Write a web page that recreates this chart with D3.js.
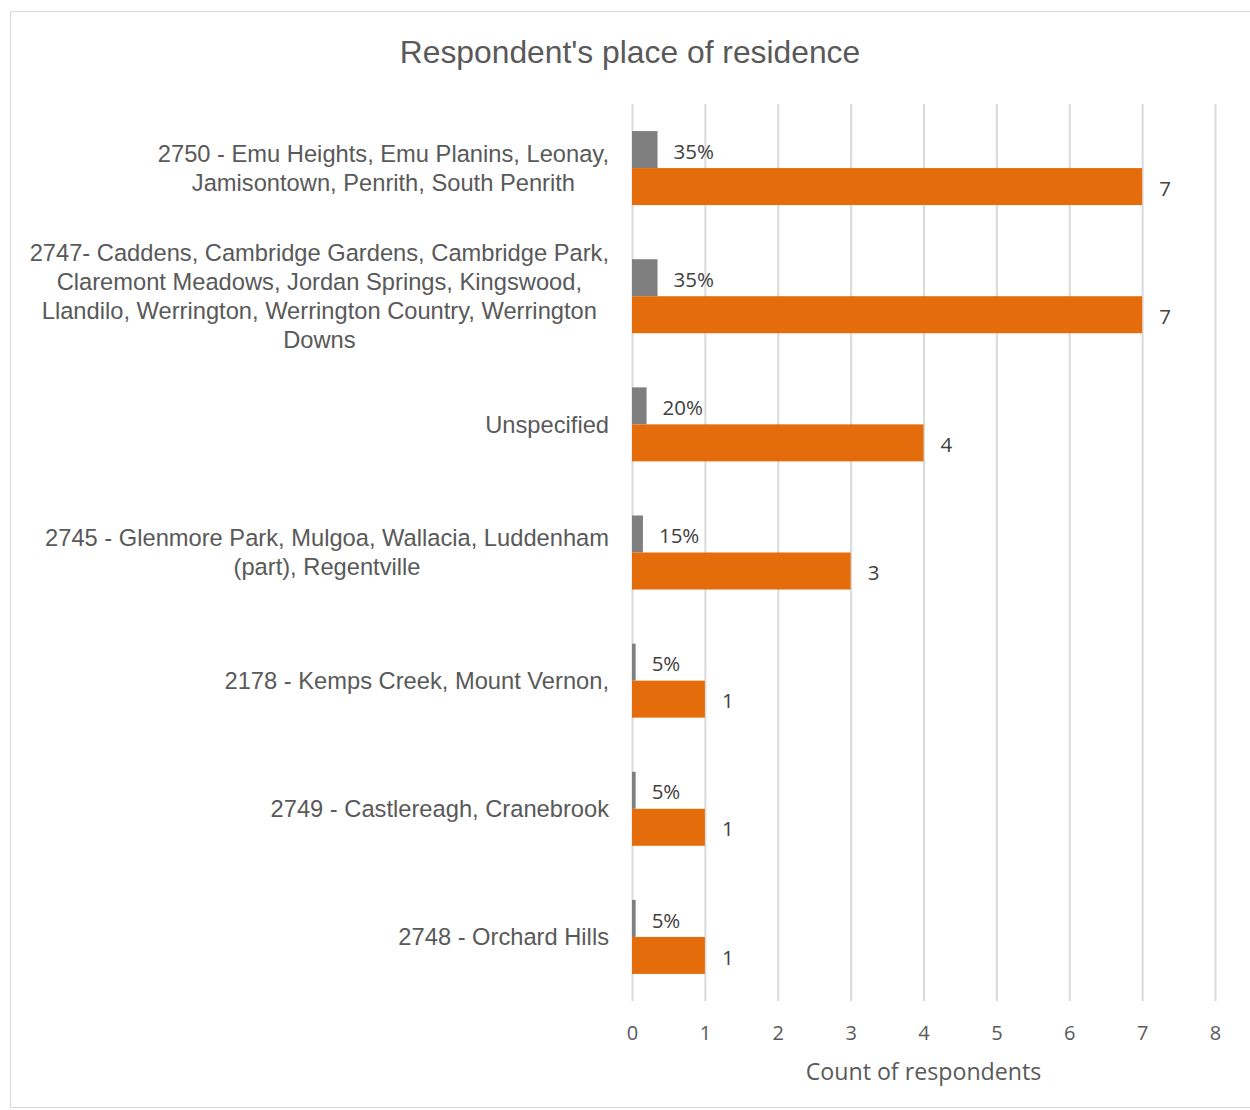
<!DOCTYPE html>
<html>
<head>
<meta charset="utf-8">
<script src="https://cdn.jsdelivr.net/npm/d3@7"></script>
<style>
  html, body { margin: 0; padding: 0; background: #fff; }
  svg { display: block; }
</style>
</head>
<body>
<script>
// Category labels, split into the lines they wrap onto
const categories = [
  ["2750 - Emu Heights, Emu Planins, Leonay,", "Jamisontown, Penrith, South Penrith"],
  ["2747- Caddens, Cambridge Gardens, Cambridge Park,", "Claremont Meadows, Jordan Springs, Kingswood,", "Llandilo, Werrington, Werrington Country, Werrington", "Downs"],
  ["Unspecified"],
  ["2745 - Glenmore Park, Mulgoa, Wallacia, Luddenham", "(part), Regentville"],
  ["2178 - Kemps Creek, Mount Vernon,"],
  ["2749 - Castlereagh, Cranebrook"],
  ["2748 - Orchard Hills"]
];
// Count of respondents per area
const counts = [7, 7, 4, 3, 1, 1, 1];
// Share of respondents per area (fraction of total)
const shares = [0.35, 0.35, 0.20, 0.15, 0.05, 0.05, 0.05];
const xTicks = [0, 1, 2, 3, 4, 5, 6, 7, 8];

const W = 1250, H = 1110;
const svg = d3.select("body").append("svg").attr("width", W).attr("height", H);

// chart frame
svg.append("rect").attr("x", 10.5).attr("y", 11.5).attr("width", 1250).attr("height", 1096)
  .attr("fill", "#fff").attr("stroke", "#d9d9d9").attr("stroke-width", 1);

const plot = { left: 632, right: 1215, top: 104, bottom: 1001 };

const x = d3.scaleLinear().domain([0, 8]).range([plot.left, plot.right]);
const y = d3.scaleBand().domain(d3.range(categories.length)).range([plot.top, plot.bottom]).padding(0);
const barH = 37;

// vertical gridlines
svg.append("g").selectAll("line").data(xTicks).join("line")
  .attr("x1", d => x(d) + 0.5).attr("x2", d => x(d) + 0.5)
  .attr("y1", plot.top).attr("y2", plot.bottom)
  .attr("stroke", "#d9d9d9").attr("stroke-width", 2);

// x axis tick labels
const xAxis = d3.axisBottom(x).tickValues(xTicks).tickSize(0).tickPadding(0).tickFormat(d3.format("d"));
const gx = svg.append("g").attr("transform", `translate(0, 1026)`).call(xAxis);
gx.select(".domain").remove();
gx.selectAll("text").attr("font-family", "'Open Sans', sans-serif").attr("font-size", 20)
  .attr("fill", "#595959").attr("dy", "0.71em");

// axis title
svg.append("text").attr("x", x(4)).attr("y", 1080).attr("text-anchor", "middle")
  .attr("font-family", "'Open Sans', sans-serif").attr("font-size", 23.2).attr("fill", "#595959")
  .text("Count of respondents");

// chart title
svg.append("text").attr("x", 630).attr("y", 63).attr("text-anchor", "middle")
  .attr("font-family", "'Liberation Sans', Arial, sans-serif").attr("font-size", 31.8).attr("fill", "#595959")
  .text("Respondent's place of residence");

const rows = svg.append("g").selectAll("g").data(categories.map((c, i) => i)).join("g");

// share bars (grey, upper)
rows.append("rect")
  .attr("x", x(0)).attr("y", i => y(i) + y.bandwidth() / 2 - barH)
  .attr("width", i => x(shares[i]) - x(0)).attr("height", barH)
  .attr("fill", "#7f7f7f");

// count bars (orange, lower)
rows.append("rect")
  .attr("x", x(0)).attr("y", i => y(i) + y.bandwidth() / 2)
  .attr("width", i => x(counts[i]) - x(0)).attr("height", barH)
  .attr("fill", "#e46c0a");

// value labels
rows.append("text")
  .attr("x", i => x(shares[i]) + 16).attr("y", i => y(i) + y.bandwidth() / 2 - barH / 2 + 2)
  .attr("dy", "0.35em").attr("font-family", "'Open Sans', sans-serif").attr("font-size", 20.5)
  .attr("fill", "#404040").text(i => d3.format(".0%")(shares[i]));
rows.append("text")
  .attr("x", i => x(counts[i]) + 17).attr("y", i => y(i) + y.bandwidth() / 2 + barH / 2 + 2)
  .attr("dy", "0.35em").attr("font-family", "'Open Sans', sans-serif").attr("font-size", 20.5)
  .attr("fill", "#404040").text(i => counts[i]);

// category labels: lines centred as a block, block right-aligned to the axis
const lineH = 29;
rows.each(function (i) {
  const g = d3.select(this);
  const lines = categories[i];
  const t = g.append("text").attr("font-family", "'Liberation Sans', Arial, sans-serif")
    .attr("font-size", 23.7).attr("fill", "#595959").attr("text-anchor", "middle");
  const cy = y(i) + y.bandwidth() / 2;
  const spans = lines.map((s, k) => t.append("tspan")
    .attr("y", cy + (k - (lines.length - 1) / 2) * lineH).attr("dy", "0.35em").text(s));
  const maxW = d3.max(spans, sp => sp.node().getComputedTextLength());
  spans.forEach(sp => sp.attr("x", 609 - maxW / 2));
});
</script>
</body>
</html>
